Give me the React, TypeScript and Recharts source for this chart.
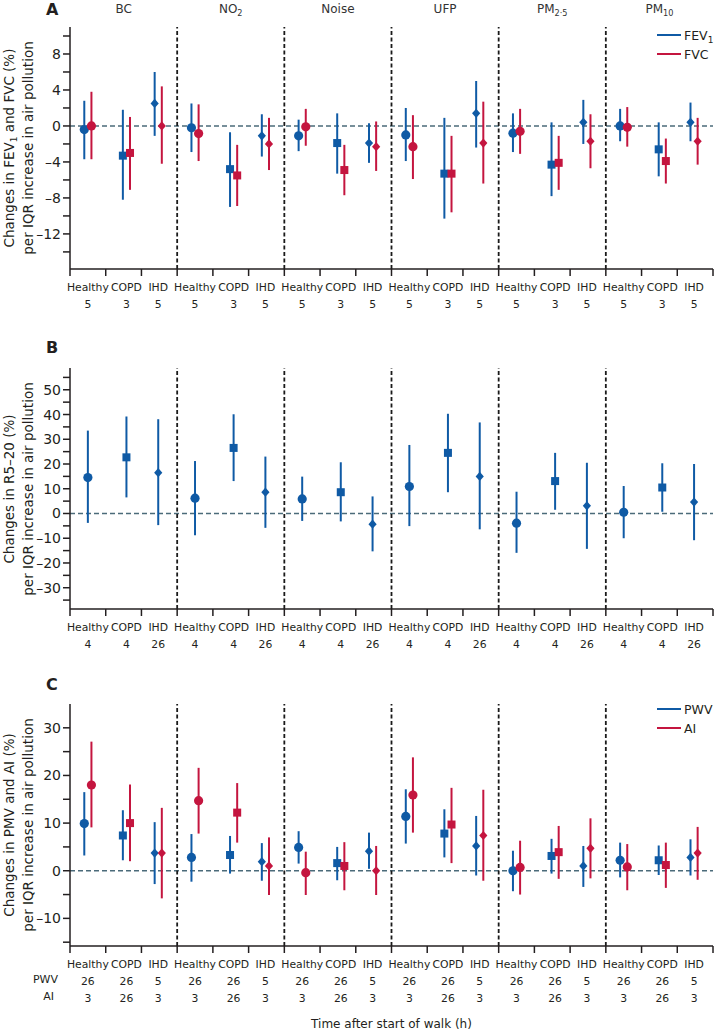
import React from "react";
import {
  ScatterChart,
  Scatter,
  XAxis,
  YAxis,
  ErrorBar,
  ReferenceLine,
} from "recharts";

const BLUE = "#0f5aa5";
const RED = "#c4153f";
const INK = "#231f20";
const FONT = '"DejaVu Sans", sans-serif';

// groups (pollutants) and subjects
const GROUPS = [
  ["BC", ""],
  ["NO", "2"],
  ["Noise", ""],
  ["UFP", ""],
  ["PM", "2·5"],
  ["PM", "10"],
];
const SUBJECTS = ["Healthy", "COPD", "IHD"];

// panel A: FEV1 / FVC
const fev1 = [-0.4, -3.3, 2.5, -0.2, -4.8, -1.1, -1.1, -1.9, -1.9, -1.0, -5.3, 1.4, -0.8, -4.3, 0.4, 0.0, -2.6, 0.4];
const fev1Low = [-3.7, -8.2, -1.1, -2.9, -9.0, -3.4, -2.8, -5.3, -4.1, -3.9, -10.3, -2.4, -2.9, -7.8, -2.0, -1.7, -5.6, -1.7];
const fev1High = [2.8, 1.8, 6.0, 2.5, -0.7, 1.3, 0.7, 1.4, 0.3, 2.0, 0.9, 5.0, 1.4, 0.4, 2.9, 1.9, 0.4, 2.6];
const fvc = [0.0, -3.0, 0.0, -0.85, -5.5, -2.0, -0.1, -4.9, -2.3, -2.3, -5.3, -1.9, -0.6, -4.1, -1.7, -0.15, -3.9, -1.7];
const fvcLow = [-3.7, -7.1, -4.2, -3.9, -8.9, -4.9, -2.2, -7.7, -5.0, -5.9, -9.6, -6.4, -3.1, -7.1, -4.7, -2.3, -6.4, -4.3];
const fvcHigh = [3.8, 1.0, 4.4, 2.4, -2.1, 0.9, 1.9, -2.1, 0.5, 1.2, -1.1, 2.7, 1.9, -1.1, 1.3, 2.1, -1.4, 0.9];
const hoursA = [["5", "3", "5"]];

// panel B: R5-20
const r520 = [14.5, 22.7, 16.5, 6.2, 26.5, 8.6, 5.9, 8.6, -4.3, 10.9, 24.5, 15.0, -3.9, 13.1, 3.1, 0.5, 10.5, 4.6];
const r520Low = [-3.8, 6.5, -4.7, -8.8, 13.1, -5.8, -3.0, -3.2, -15.3, -5.1, 8.6, -6.4, -15.9, 1.5, -14.3, -10.0, 0.7, -10.8];
const r520High = [33.5, 39.2, 38.1, 21.2, 40.1, 23.0, 14.9, 20.7, 6.9, 27.7, 40.3, 36.8, 8.8, 24.5, 20.5, 11.1, 20.3, 20.0];
const hoursB = [["4", "4", "26"]];

// panel C: PWV / AI
const pwv = [9.9, 7.4, 3.7, 2.8, 3.3, 1.9, 4.9, 1.6, 4.1, 11.4, 7.8, 5.2, 0.0, 3.1, 1.0, 2.2, 2.2, 2.8];
const pwvLow = [3.2, 2.2, -2.8, -2.3, -0.6, -2.1, 1.5, -2.0, 0.4, 5.7, 2.8, -1.0, -4.3, -0.6, -3.4, -1.4, -0.9, -1.0];
const pwvHigh = [16.5, 12.7, 10.2, 7.7, 7.3, 5.8, 8.3, 5.0, 8.0, 17.1, 12.9, 11.5, 4.2, 6.7, 5.2, 5.9, 5.3, 6.6];
const ai = [18.0, 10.0, 3.7, 14.7, 12.2, 1.0, -0.4, 1.0, 0.0, 15.9, 9.7, 7.4, 0.7, 3.9, 4.7, 0.8, 1.2, 3.7];
const aiLow = [9.1, 2.0, -5.8, 7.8, 5.9, -5.1, -5.1, -4.1, -5.1, 8.0, 1.6, -2.1, -5.0, -1.7, -1.6, -4.1, -3.6, -1.9];
const aiHigh = [27.1, 18.1, 13.2, 21.6, 18.4, 7.0, 4.0, 6.0, 5.2, 23.8, 17.4, 17.0, 6.3, 9.4, 11.0, 5.6, 5.9, 9.2];
const hoursC = [
  ["26", "26", "5"],
  ["3", "26", "3"],
];

// where each subject sits inside its group of 3 slots
const SUBJECT_POS = [0.5, 1.58, 2.47];
const PAIR = 0.1;

const W = 714;
const PLOT_LEFT = 70;
const PLOT_RIGHT = 713;
const SLOT = (PLOT_RIGHT - PLOT_LEFT) / 18;
const slotX = (v: number) => PLOT_LEFT + v * SLOT;

const toRows = (vals: number[], lo: number[], hi: number[], shift: number) =>
  vals.map((v, i) => ({
    x: Math.floor(i / 3) * 3 + SUBJECT_POS[i % 3] + shift,
    y: v,
    err: [v - lo[i], hi[i] - v],
    subject: i % 3,
  }));

const intTicks = Array.from({ length: 19 }, (_, i) => i);
const labelTicks = GROUPS.flatMap((_, g) => SUBJECT_POS.map((p) => g * 3 + p));
const xTicks = [...intTicks, ...labelTicks];

const range = (a: number, b: number, step: number) => {
  const out: number[] = [];
  for (let v = a; v <= b + 1e-9; v += step) out.push(v);
  return out;
};

function Marker(props: any) {
  const { cx, cy, payload, fill } = props;
  if (cx == null || cy == null) return <g />;
  if (payload.subject === 0) return <circle cx={cx} cy={cy} r={4.6} fill={fill} />;
  if (payload.subject === 1)
    return <rect x={cx - 4} y={cy - 4} width={8} height={8} fill={fill} />;
  return (
    <path
      d={`M${cx},${cy - 4.6}L${cx + 4.1},${cy}L${cx},${cy + 4.6}L${cx - 4.1},${cy}Z`}
      fill={fill}
    />
  );
}

const makeYTick = (every: number) => (p: any) => {
  const v = p.payload.value;
  const r = Math.abs(v) % every;
  if (r > 1e-6 && every - r > 1e-6) return <g />;
  return (
    <text x={p.x} y={p.y} dy={5} textAnchor="end" fontSize={14} fill={INK} fontFamily={FONT}>
      {v < 0 ? `–${-v}` : v}
    </text>
  );
};

const makeXTick = (rows: string[][]) => (p: any) => {
  const v = p.payload.value;
  if (Math.abs(v - Math.round(v)) < 1e-6)
    return <line x1={p.x} x2={p.x} y1={p.y} y2={p.y + 7} stroke={INK} strokeWidth={1.5} />;
  const s = SUBJECT_POS.findIndex((pos) => Math.abs((v % 3) - pos) < 1e-6);
  const lines = [SUBJECTS[s], ...rows.map((r) => r[s])];
  return (
    <g>
      {lines.map((t, k) => (
        <text
          key={k}
          x={p.x}
          y={p.y + 22 + k * 16.8}
          textAnchor="middle"
          fontSize={10.8}
          fill={INK}
          fontFamily={FONT}
        >
          {t}
        </text>
      ))}
    </g>
  );
};

interface Series {
  rows: ReturnType<typeof toRows>;
  color: string;
}

interface PanelProps {
  top: number;
  height: number;
  marginTop: number;
  axisHeight: number;
  domain: [number, number];
  ticks: number[];
  labelEvery: number;
  series: Series[];
  hours: string[][];
}

function Panel({ top, height, marginTop, axisHeight, domain, ticks, labelEvery, series, hours }: PanelProps) {
  return (
    <div style={{ position: "absolute", left: 0, top }}>
      <ScatterChart
        width={W}
        height={height}
        margin={{ top: marginTop, right: W - PLOT_RIGHT, bottom: 0, left: 0 }}
      >
        <XAxis
          type="number"
          dataKey="x"
          domain={[0, 18]}
          ticks={xTicks}
          interval={0}
          tickSize={0}
          tickMargin={0}
          tickLine={false}
          tick={makeXTick(hours)}
          height={axisHeight}
          axisLine={{ stroke: INK, strokeWidth: 1.5 }}
          allowDataOverflow
        />
        <YAxis
          type="number"
          dataKey="y"
          domain={domain}
          ticks={ticks}
          interval={0}
          width={PLOT_LEFT}
          tickSize={7}
          tickMargin={2}
          tickLine={{ stroke: INK, strokeWidth: 1.5 }}
          axisLine={{ stroke: INK, strokeWidth: 1.5 }}
          tick={makeYTick(labelEvery)}
          allowDataOverflow
        />
        <ReferenceLine y={0} stroke="#4b6b7a" strokeWidth={1.6} strokeDasharray="5 3" />
        {[3, 6, 9, 12, 15].map((x) => (
          <ReferenceLine key={x} x={x} stroke="#1a1a1a" strokeWidth={1.8} strokeDasharray="4 2.5" />
        ))}
        {series.map((s, i) => (
          <Scatter
            key={i}
            data={s.rows}
            fill={s.color}
            shape={Marker}
            isAnimationActive={false}
          >
            <ErrorBar dataKey="err" direction="y" width={0} stroke={s.color} strokeWidth={2} />
          </Scatter>
        ))}
      </ScatterChart>
    </div>
  );
}

function Sub({ text, sub, size }: { text: string; sub: string; size: number }) {
  return (
    <>
      <tspan>{text}</tspan>
      {sub && (
        <tspan fontSize={size * 0.68} dy={size * 0.22}>
          {sub}
        </tspan>
      )}
    </>
  );
}

function YTitle({ cy, first }: { cy: number; first: React.ReactNode }) {
  return (
    <g fontSize={13.5} fill={INK} fontFamily={FONT} textAnchor="middle">
      <text transform={`translate(14, ${cy}) rotate(-90)`}>{first}</text>
      <text transform={`translate(33, ${cy}) rotate(-90)`}>per IQR increase in air pollution</text>
    </g>
  );
}

function Legend({ y, items }: { y: number; items: React.ReactNode[] }) {
  return (
    <g fontFamily={FONT} fontSize={12.5} fill={INK}>
      {items.map((it, i) => (
        <g key={i}>
          <line
            x1={657}
            x2={681}
            y1={y + i * 19}
            y2={y + i * 19}
            stroke={i === 0 ? BLUE : RED}
            strokeWidth={2}
          />
          <text x={684} y={y + i * 19 + 5}>
            {it}
          </text>
        </g>
      ))}
    </g>
  );
}

export default function App() {
  return (
    <div
      style={{
        position: "absolute",
        left: 0,
        top: 0,
        width: W,
        height: 1031,
        background: "#fff",
        overflow: "hidden",
      }}
    >
      <Panel
        top={0}
        height={330}
        marginTop={27}
        axisHeight={61}
        domain={[-15.9, 11]}
        ticks={range(-14, 10, 2)}
        labelEvery={4}
        hours={hoursA}
        series={[
          { rows: toRows(fev1, fev1Low, fev1High, -PAIR), color: BLUE },
          { rows: toRows(fvc, fvcLow, fvcHigh, PAIR), color: RED },
        ]}
      />
      <Panel
        top={330}
        height={330}
        marginTop={38}
        axisHeight={51}
        domain={[-38.6, 58.8]}
        ticks={range(-35, 55, 5)}
        labelEvery={10}
        hours={hoursB}
        series={[{ rows: toRows(r520, r520Low, r520High, 0), color: BLUE }]}
      />
      <Panel
        top={660}
        height={371}
        marginTop={44}
        axisHeight={85}
        domain={[-15.8, 35]}
        ticks={range(-15, 30, 5)}
        labelEvery={10}
        hours={hoursC}
        series={[
          { rows: toRows(pwv, pwvLow, pwvHigh, -PAIR), color: BLUE },
          { rows: toRows(ai, aiLow, aiHigh, PAIR), color: RED },
        ]}
      />

      <svg
        width={W}
        height={1031}
        style={{ position: "absolute", left: 0, top: 0, pointerEvents: "none" }}
      >
        <g fontFamily={FONT} fontWeight="bold" fontSize={16} fill={INK}>
          <text x={46} y={15}>A</text>
          <text x={46} y={353}>B</text>
          <text x={46} y={690}>C</text>
        </g>
        <g fontFamily={FONT} fontSize={12} fill="#333" textAnchor="middle">
          {GROUPS.map(([t, s], g) => (
            <text key={g} x={slotX(g * 3 + 1.5)} y={13}>
              <Sub text={t} sub={s} size={12} />
            </text>
          ))}
        </g>
        <YTitle
          cy={148}
          first={
            <>
              <tspan>Changes in FEV</tspan>
              <tspan fontSize={9} dy={3}>1</tspan>
              <tspan dy={-3}> and FVC (%)</tspan>
            </>
          }
        />
        <YTitle cy={489} first="Changes in R5–20 (%)" />
        <YTitle cy={825} first="Changes in PMV and AI (%)" />
        <Legend
          y={35}
          items={[
            <>
              <tspan>FEV</tspan>
              <tspan fontSize={9} dy={3}>1</tspan>
            </>,
            "FVC",
          ]}
        />
        <Legend y={709} items={["PWV", "AI"]} />
        <g fontFamily={FONT} fontSize={11} fill={INK} textAnchor="end">
          <text x={58} y={983}>PWV</text>
          <text x={54} y={1000}>AI</text>
        </g>
        <text
          x={(PLOT_LEFT + PLOT_RIGHT) / 2}
          y={1028}
          fontFamily={FONT}
          fontSize={12}
          fill={INK}
          textAnchor="middle"
        >
          Time after start of walk (h)
        </text>
      </svg>
    </div>
  );
}
